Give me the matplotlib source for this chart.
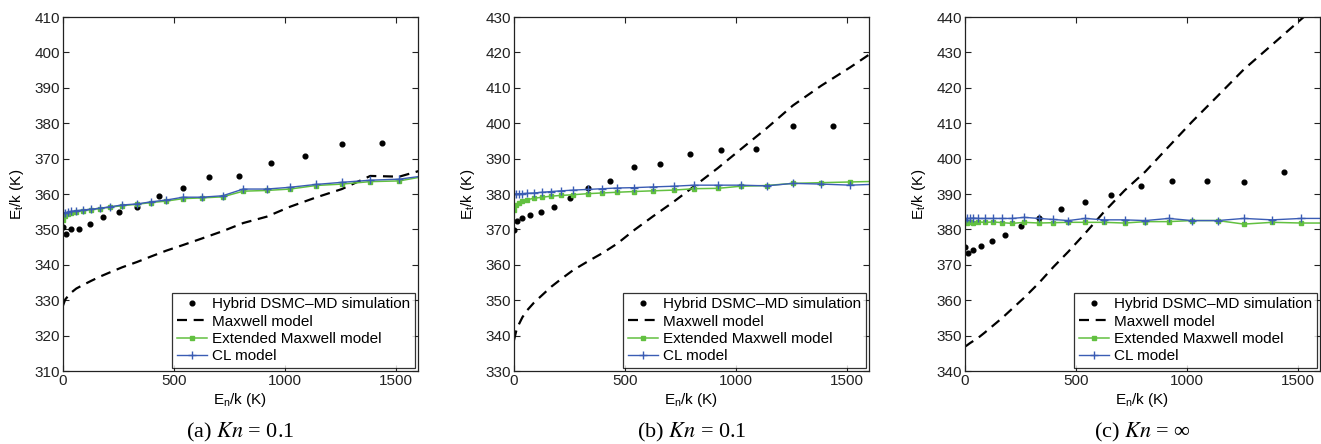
import matplotlib
matplotlib.use("Agg")
import matplotlib.pyplot as plt

plt.rcParams['font.family'] = ['Liberation Sans', 'DejaVu Sans']
plt.rcParams['mathtext.fontset'] = 'custom'
plt.rcParams['mathtext.rm'] = 'Liberation Sans'
plt.rcParams['mathtext.it'] = 'Liberation Sans:italic'

# x grid of the model curves and of the simulation points
x_model = [0, 10, 23, 38, 60, 90, 128, 168, 213, 267, 334, 399, 466, 542,
           625, 720, 813, 919, 1024, 1140, 1258, 1386, 1517, 1650]
x_sim = [0, 12, 36, 72, 120, 180, 252, 336, 432, 540, 660, 792, 936, 1092, 1260, 1440]

# (a) Kn = 0.1
sim_a = [350.7, 348.6, 350.0, 350.0, 351.6, 353.6, 354.8, 356.4, 359.4, 361.7,
         364.8, 365.1, 368.7, 370.6, 374.0, 374.3]
maxwell_a = [328.5, 330.2, 331.2, 332.2, 333.3, 334.3, 335.5, 336.7, 337.9, 339.3,
             340.8, 342.4, 344.0, 345.6, 347.4, 349.5, 351.8, 353.6, 356.4, 359.0,
             361.4, 365.1, 364.9, 367.3]
ext_a = [352.6, 353.8, 354.3, 354.6, 355.0, 355.3, 355.6, 355.9, 356.3, 356.7,
         357.1, 357.6, 358.0, 358.7, 358.9, 359.2, 360.8, 361.0, 361.4, 362.4,
         362.8, 363.5, 363.7, 365.2]
cl_a = [354.5, 354.7, 354.9, 355.1, 355.3, 355.5, 355.7, 356.0, 356.4, 356.9,
        357.2, 357.8, 358.3, 359.1, 359.1, 359.5, 361.4, 361.4, 361.9, 362.7,
        363.3, 363.9, 364.2, 365.3]

# (b) Kn = 0.1
sim_b = [369.8, 372.3, 373.1, 374.0, 375.0, 376.2, 379.0, 381.7, 383.6, 387.5,
         388.4, 391.2, 392.4, 392.7, 399.1, 399.1]
maxwell_b = [338.7, 341.3, 343.3, 345.2, 347.2, 349.3, 351.5, 353.8, 356.0, 358.5,
             361.0, 363.3, 366.0, 369.8, 373.6, 377.8, 382.2, 387.3, 392.7, 398.6,
             405.0, 410.6, 415.8, 421.4]
ext_b = [375.5, 376.8, 377.5, 377.9, 378.4, 378.8, 379.1, 379.4, 379.6, 379.8,
         380.1, 380.3, 380.5, 380.7, 380.9, 381.1, 381.5, 381.6, 382.2, 382.4,
         383.0, 383.2, 383.4, 383.6]
cl_b = [380.0, 380.0, 380.1, 380.1, 380.2, 380.3, 380.5, 380.7, 380.9, 381.1,
        381.3, 381.5, 381.7, 381.8, 382.0, 382.2, 382.5, 382.5, 382.5, 382.3,
        383.0, 382.8, 382.5, 382.8]

# (c) Kn = inf
sim_c = [374.9, 373.2, 374.2, 375.3, 376.7, 378.4, 381.0, 383.1, 385.8, 387.7,
         389.6, 392.2, 393.8, 393.8, 393.4, 396.1]
maxwell_c = [346.9, 347.3, 347.9, 348.5, 349.4, 350.9, 352.9, 355.0, 357.6, 360.7,
             364.9, 369.4, 373.7, 378.9, 384.8, 391.0, 396.3, 403.4, 410.4, 417.7,
             425.2, 432.2, 439.4, 446.5]
ext_c = [382.3, 381.9, 382.0, 381.8, 382.1, 382.0, 382.1, 381.9, 381.7, 382.0,
         381.8, 381.9, 382.0, 382.0, 382.0, 381.8, 382.2, 382.2, 382.5, 382.5,
         381.5, 382.0, 381.8, 381.8]
cl_c = [382.7, 383.1, 383.1, 383.2, 383.1, 383.1, 383.1, 383.1, 383.1, 383.4,
        383.1, 382.8, 382.5, 383.1, 382.7, 382.7, 382.5, 383.1, 382.5, 382.5,
        383.1, 382.7, 383.1, 383.1]

panels = [
    (sim_a, maxwell_a, ext_a, cl_a, (310, 410), '(a) $\\mathit{Kn}$ = 0.1'),
    (sim_b, maxwell_b, ext_b, cl_b, (330, 430), '(b) $\\mathit{Kn}$ = 0.1'),
    (sim_c, maxwell_c, ext_c, cl_c, (340, 440), '(c) $\\mathit{Kn}$ = \u221e'),
]
lefts = [0.0477, 0.3891, 0.7305]

green = '#62c040'
blue = '#3a5cb4'

fig = plt.figure(figsize=(13.21, 4.44), dpi=100)

for left, (sim, mx, ext, cl, ylim, caption) in zip(lefts, panels):
    ax = fig.add_axes([left, 0.1644, 0.2685, 0.7973])
    ax.plot(x_sim, sim, 'o', color='black', markersize=3.4, linestyle='none',
            label='Hybrid DSMC\u2013MD simulation')
    ax.plot(x_model, mx, '--', color='black', linewidth=1.6, dashes=(4.5, 3),
            label='Maxwell model')
    ax.plot(x_model, ext, '-s', color=green, linewidth=1.1, markersize=2.2,
            label='Extended Maxwell model')
    ax.plot(x_model, cl, '-+', color=blue, linewidth=1.0, markersize=6,
            markeredgewidth=1.0, label='CL model')
    ax.set_xlim(0, 1600)
    ax.set_ylim(*ylim)
    ax.set_xticks([0, 500, 1000, 1500])
    ax.set_yticks(range(ylim[0], ylim[1] + 1, 10))
    ax.tick_params(direction='in', top=True, right=True, length=4,
                   labelsize=11, colors='#222222', pad=2)
    for s in ax.spines.values():
        s.set_linewidth(0.9)
        s.set_color('#222222')
    ax.set_xlabel('E$_\\mathrm{n}$/k (K)', fontsize=11, labelpad=2)
    ax.set_ylabel('E$_\\mathrm{t}$/k (K)', fontsize=11, labelpad=6)
    leg = ax.legend(loc='lower right', fontsize=11, fancybox=False,
                    edgecolor='black', borderaxespad=0.2, handlelength=2.0,
                    borderpad=0.3, labelspacing=0.22, handletextpad=0.3)
    leg.get_frame().set_linewidth(0.9)
    fig.text(left + 0.2685 / 2, 0.025, caption, ha='center', va='center',
             fontsize=16, family='Liberation Serif', math_fontfamily='stix')

fig.savefig('out.png', dpi=100)
